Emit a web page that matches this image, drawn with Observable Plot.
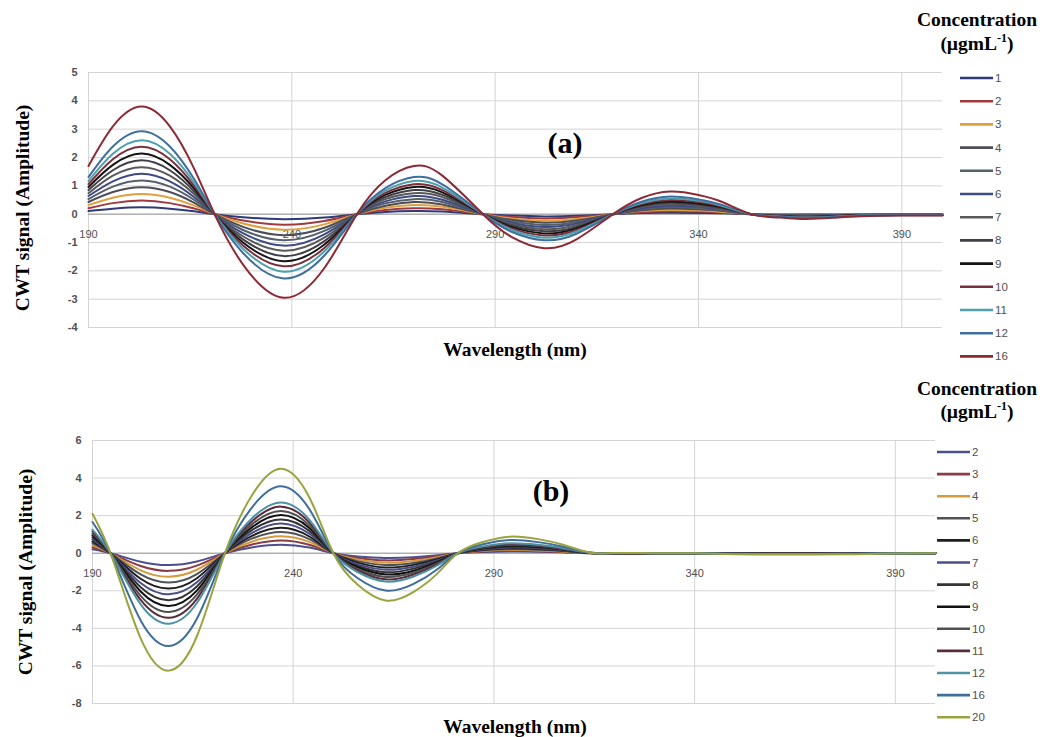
<!DOCTYPE html>
<html><head><meta charset="utf-8">
<script src="https://cdn.jsdelivr.net/npm/d3@7"></script>
<script src="https://cdn.jsdelivr.net/npm/@observablehq/plot@0.6"></script>
<style>
html,body{margin:0;padding:0;background:#fff;}
#wrap{position:relative;width:1040px;height:737px;overflow:hidden;background:#fff;}
.serifb{font-family:"Liberation Serif","DejaVu Serif","Times New Roman",serif;font-weight:bold;}
</style></head><body><div id="wrap"></div>
<script>
// ---------- Panel (a) ----------
const wlA = [190,196,203,210,216,221,228,238,248,256,263,270,277,287,294,302,310,319,326,333,340,346,353,360,366,373,380,390,400];
const concA = [1,2,3,4,5,6,7,8,9,10,11,12,16];
const colorsA = ["#2f3a78","#a13a3f","#e0a040","#4d4d55","#55606a","#3e4a86","#595959","#3f3f46","#141414","#7a2f3c","#4fa0ad","#3f6f9e","#8c2a36"];
const A1  = [0.11,0.19,0.24,0.19,0.10,0,-0.11,-0.18,-0.12,0,0.08,0.11,0.09,0,-0.05,-0.08,-0.06,0,0.04,0.05,0.04,0.03,0,-0.01,-0.01,-0.01,0,0,0];
const A2  = [0.21,0.39,0.48,0.39,0.20,0,-0.22,-0.37,-0.24,0,0.15,0.21,0.17,0,-0.10,-0.15,-0.11,0,0.07,0.10,0.09,0.05,0,-0.02,-0.02,-0.02,-0.01,-0.01,-0.01];
const A3  = [0.32,0.58,0.71,0.58,0.30,0,-0.33,-0.55,-0.36,0,0.23,0.32,0.26,0,-0.15,-0.23,-0.17,0,0.11,0.15,0.13,0.08,0,-0.02,-0.03,-0.02,-0.01,-0.01,-0.01];
const A4  = [0.43,0.78,0.95,0.78,0.40,0,-0.45,-0.74,-0.48,0,0.30,0.43,0.34,0,-0.20,-0.30,-0.22,0,0.14,0.20,0.17,0.11,0,-0.03,-0.04,-0.03,-0.02,-0.01,-0.01];
const A5  = [0.53,0.97,1.19,0.97,0.50,0,-0.56,-0.92,-0.59,0,0.38,0.53,0.43,0,-0.25,-0.38,-0.28,0,0.18,0.25,0.21,0.13,0,-0.04,-0.05,-0.04,-0.02,-0.02,-0.02];
const A6  = [0.64,1.16,1.43,1.16,0.60,0,-0.67,-1.11,-0.71,0,0.45,0.64,0.51,0,-0.30,-0.45,-0.33,0,0.21,0.30,0.26,0.16,0,-0.05,-0.06,-0.05,-0.03,-0.02,-0.02];
const A7  = [0.74,1.36,1.66,1.36,0.70,0,-0.78,-1.29,-0.83,0,0.53,0.74,0.60,0,-0.35,-0.53,-0.39,0,0.25,0.35,0.30,0.18,0,-0.05,-0.07,-0.06,-0.03,-0.02,-0.02];
const A8  = [0.85,1.55,1.90,1.55,0.80,0,-0.89,-1.48,-0.95,0,0.60,0.85,0.68,0,-0.40,-0.60,-0.45,0,0.29,0.40,0.34,0.21,0,-0.06,-0.09,-0.07,-0.04,-0.03,-0.03];
const A9  = [0.96,1.74,2.14,1.74,0.90,0,-1.00,-1.66,-1.07,0,0.68,0.96,0.77,0,-0.45,-0.68,-0.50,0,0.32,0.45,0.38,0.24,0,-0.07,-0.10,-0.07,-0.04,-0.03,-0.03];
const A10 = [1.06,1.94,2.38,1.94,1.00,0,-1.11,-1.84,-1.19,0,0.75,1.06,0.85,0,-0.50,-0.75,-0.56,0,0.36,0.50,0.43,0.26,0,-0.08,-0.11,-0.08,-0.04,-0.03,-0.03];
const A11 = [1.17,2.13,2.61,2.13,1.10,0,-1.22,-2.03,-1.31,0,0.83,1.17,0.94,0,-0.55,-0.83,-0.61,0,0.39,0.55,0.47,0.29,0,-0.08,-0.12,-0.09,-0.05,-0.03,-0.03];
const A12 = [1.31,2.39,2.93,2.39,1.23,0,-1.37,-2.27,-1.46,0,0.92,1.31,1.05,0,-0.62,-0.92,-0.69,0,0.44,0.62,0.52,0.32,0,-0.09,-0.13,-0.10,-0.05,-0.04,-0.04];
const A16 = [1.70,3.10,3.80,3.10,1.60,0,-1.78,-2.95,-1.90,0,1.20,1.70,1.36,0,-0.80,-1.20,-0.89,0,0.57,0.80,0.68,0.42,0,-0.12,-0.17,-0.13,-0.07,-0.05,-0.05];
const seriesA = [A1,A2,A3,A4,A5,A6,A7,A8,A9,A10,A11,A12,A16];
const yTicksA = [-4,-3,-2,-1,0,1,2,3,4,5];

// ---------- Panel (b) ----------
const wlB = [190,195,202,209,216,223,230,237,244,250,256,263,270,276,281,287,294,301,307,314,320,330,340,350,360,370,380,390,400];
const concB = [2,3,4,5,6,7,8,9,10,11,12,16,20];
const colorsB = ["#4b4f8f","#8a3b45","#d59a3e","#4f5358","#1e1e1e","#4c4f85","#333338","#111111","#505050","#5a2c3c","#4f93a3","#3f6e9a","#9aa43e"];
const B2  = [0.21,-0.03,-0.45,-0.63,-0.44,0,0.32,0.45,0.30,0,-0.17,-0.25,-0.21,-0.11,0,0.06,0.09,0.08,0.05,0,0,0,0,-0.01,-0.01,-0.01,-0.01,0,0];
const B3  = [0.32,-0.05,-0.68,-0.94,-0.66,0,0.48,0.68,0.45,0,-0.25,-0.38,-0.31,-0.16,0,0.09,0.13,0.11,0.07,0,0,0,0,-0.01,-0.01,-0.01,-0.01,0,0];
const B4  = [0.42,-0.06,-0.91,-1.25,-0.88,0,0.64,0.90,0.60,0,-0.33,-0.50,-0.41,-0.21,0,0.12,0.18,0.15,0.09,0.01,0,0,0,-0.01,-0.01,-0.01,-0.01,0,0];
const B5  = [0.53,-0.08,-1.13,-1.56,-1.11,0,0.80,1.13,0.75,0,-0.42,-0.63,-0.52,-0.27,0,0.15,0.22,0.19,0.12,0.01,0,0,0,-0.01,-0.02,-0.02,-0.01,-0.01,0];
const B6  = [0.63,-0.09,-1.36,-1.88,-1.33,0,0.95,1.35,0.89,0,-0.50,-0.76,-0.62,-0.32,0,0.17,0.26,0.23,0.14,0.01,0,0,0,-0.02,-0.02,-0.02,-0.02,-0.01,0];
const B7  = [0.74,-0.11,-1.59,-2.19,-1.55,0,1.11,1.58,1.04,0,-0.58,-0.88,-0.72,-0.37,0,0.20,0.31,0.26,0.16,0.01,0,0,0,-0.02,-0.02,-0.02,-0.02,-0.01,0];
const B8  = [0.84,-0.12,-1.81,-2.50,-1.77,0,1.27,1.80,1.19,0,-0.67,-1.01,-0.82,-0.42,0,0.23,0.35,0.30,0.18,0.01,0,0,0,-0.02,-0.02,-0.02,-0.02,-0.01,0];
const B9  = [0.95,-0.14,-2.04,-2.81,-1.99,0,1.43,2.03,1.34,0,-0.75,-1.13,-0.93,-0.48,0,0.26,0.40,0.34,0.21,0.01,0,0,0,-0.02,-0.03,-0.03,-0.02,-0.01,0];
const B10 = [1.05,-0.15,-2.27,-3.13,-2.21,0,1.59,2.25,1.49,0,-0.84,-1.26,-1.03,-0.53,0,0.29,0.44,0.38,0.23,0.02,0,0,0,-0.03,-0.03,-0.03,-0.03,-0.01,0];
const B11 = [1.16,-0.17,-2.49,-3.44,-2.43,0,1.75,2.48,1.64,0,-0.92,-1.39,-1.13,-0.58,0,0.32,0.48,0.41,0.25,0.02,0.01,0,0,-0.03,-0.03,-0.03,-0.03,-0.01,0];
const B12 = [1.26,-0.18,-2.72,-3.75,-2.65,0,1.91,2.70,1.79,0,-1.00,-1.51,-1.24,-0.64,0,0.35,0.53,0.45,0.28,0.02,0.01,0,0,-0.03,-0.04,-0.04,-0.03,-0.01,0];
const B16 = [1.66,-0.24,-3.58,-4.94,-3.49,0,2.51,3.56,2.35,0,-1.32,-1.99,-1.63,-0.84,0,0.46,0.70,0.59,0.36,0.02,0.01,0,0,-0.04,-0.05,-0.05,-0.04,-0.02,0];
const B20 = [2.10,-0.30,-4.53,-6.25,-4.42,0,3.18,4.50,2.98,0,-1.67,-2.52,-2.06,-1.06,0,0.58,0.88,0.75,0.46,0.03,0.01,0,0,-0.05,-0.06,-0.06,-0.05,-0.02,0];
const seriesB = [B2,B3,B4,B5,B6,B7,B8,B9,B10,B11,B12,B16,B20];
const yTicksB = [-8,-6,-4,-2,0,2,4,6];

const xTicks = [190,240,290,340,390];
const xGrid = [190,240,290,340,390];

const wrap = document.getElementById("wrap");

function makePanel(p) {
  const rows = [];
  p.conc.forEach((c, i) => p.series[i].forEach((v, j) => rows.push({c: String(c), wl: p.wl[j], v})));
  const svg = Plot.plot({
    width: p.width, height: p.height,
    marginTop: p.mt, marginBottom: p.mb, marginLeft: p.ml, marginRight: p.mr,
    style: {background: "transparent", overflow: "visible", fontFamily: "'Liberation Sans', Arial, sans-serif"},
    x: {domain: [190, 400], axis: null},
    y: {domain: p.yDomain, axis: null},
    color: {type: "ordinal", domain: p.conc.map(String), range: p.colors},
    marks: [
      Plot.ruleY(p.yTicks, {stroke: "#d4d4d4", strokeWidth: 1}),
      Plot.ruleX(xGrid, {stroke: "#d4d4d4", strokeWidth: 1}),
      Plot.ruleY([0], {stroke: "#9a9a9a", strokeWidth: 1}),
      Plot.text(p.yTicks, {frameAnchor: "left", y: d => d, text: d => String(d), textAnchor: "end", dx: -p.tickPad, fill: "#505050", fontSize: 11, fontWeight: "bold"}),
      Plot.text(xTicks, {x: d => d, y: d => 0, dy: 20, text: d => String(d), fill: "#505050", fontSize: 11}),
      Plot.line(rows, {x: "wl", y: "v", z: "c", stroke: "c", curve: "natural", strokeWidth: 2})
    ]
  });
  svg.style.position = "absolute";
  svg.style.left = p.left + "px";
  svg.style.top = p.top + "px";
  wrap.appendChild(svg);
}

makePanel({wl: wlA, conc: concA, series: seriesA, colors: colorsA, yDomain: [-4, 5], yTicks: yTicksA,
  left: 0, top: 50, width: 950, height: 300, mt: 22, mb: 23, ml: 88, mr: 8, tickPad: 11});
makePanel({wl: wlB, conc: concB, series: seriesB, colors: colorsB, yDomain: [-8, 6], yTicks: yTicksB,
  left: 0, top: 415, width: 950, height: 310, mt: 25, mb: 22, ml: 92, mr: 15, tickPad: 11});

// ---------- Overlay texts and legends ----------
const ov = d3.select(wrap).append("svg")
  .attr("width", 1040).attr("height", 737)
  .style("position", "absolute").style("left", "0px").style("top", "0px");

function boldText(x, y, txt, size, rot) {
  const t = ov.append("text").attr("class", "serifb")
    .style("font-size", size + "px").attr("fill", "#000").attr("text-anchor", "middle");
  if (rot) t.attr("transform", `translate(${x},${y}) rotate(-90)`).attr("dominant-baseline", "central");
  else t.attr("x", x).attr("y", y);
  t.text(txt);
  return t;
}
boldText(22, 208, "CWT signal (Amplitude)", 19.5, true);
boldText(25, 572, "CWT signal (Amplitude)", 19.5, true);
boldText(515, 356, "Wavelength (nm)", 19.5);
boldText(515, 733, "Wavelength (nm)", 19.5);
boldText(565, 153, "(a)", 30);
boldText(551, 501, "(b)", 30);

function legendTitle(cx, y1, y2) {
  boldText(cx, y1, "Concentration", 19.5);
  const t = ov.append("text").attr("class", "serifb")
    .style("font-size", "19.5px").attr("text-anchor", "middle").attr("x", cx).attr("y", y2);
  t.append("tspan").text("(µgmL");
  t.append("tspan").style("font-size", "12px").attr("dy", -8).text("-1");
  t.append("tspan").attr("dy", 8).text(")");
}
legendTitle(977, 26, 50);
legendTitle(977, 395, 418);

function legend(conc, colors, x1, x2, y0, step) {
  conc.forEach((c, i) => {
    const y = y0 + i * step;
    ov.append("line").attr("x1", x1).attr("x2", x2).attr("y1", y).attr("y2", y)
      .attr("stroke", colors[i]).attr("stroke-width", 2.6);
    ov.append("text").attr("x", x2 + 2).attr("y", y).attr("dominant-baseline", "central")
      .style("font-family", "'Liberation Sans', Arial, sans-serif").style("font-size", "11.5px")
      .attr("fill", "#505050").text(String(c));
  });
}
legend(concA, colorsA, 960, 993, 78, 23.2);
legend(concB, colorsB, 937, 970, 452, 22.1);
</script>
</body></html>
